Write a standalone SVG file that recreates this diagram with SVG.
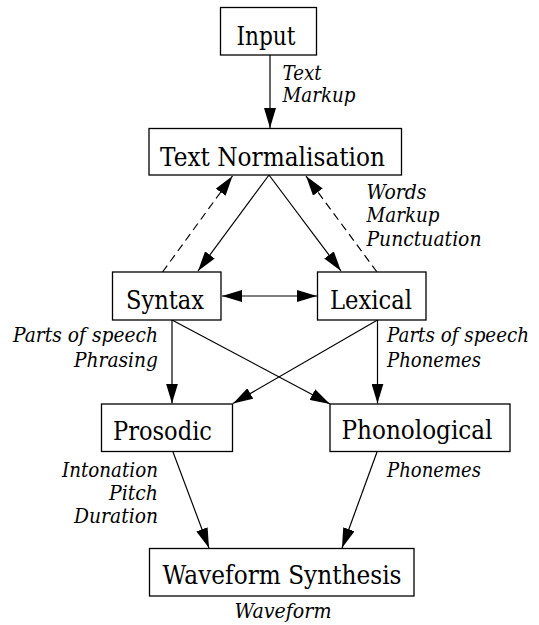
<svg xmlns="http://www.w3.org/2000/svg" width="539" height="625" viewBox="0 0 539 625">
  <style>
    .box { fill: #ffffff; stroke: #000000; stroke-width: 1.3; }
    .name { font-family: "DejaVu Serif", "Liberation Serif", serif; font-size: 26px; fill: #000000; text-anchor: middle; }
    .lbl { font-family: "DejaVu Serif", "Liberation Serif", serif; font-size: 21px; font-style: italic; fill: #000000; }
    .end { text-anchor: end; }
    .mid { text-anchor: middle; }
    .edge { fill: none; stroke: #000000; stroke-width: 1.2; }
    .dash { stroke-dasharray: 8 5; }
  </style>
  <defs>
    <marker id="head" viewBox="0 0 20 12" markerUnits="userSpaceOnUse" markerWidth="20" markerHeight="12" refX="20" refY="6" orient="auto-start-reverse">
      <path d="M0,0 L20,6 L0,12 z" fill="#000000"/>
    </marker>
  </defs>

  <rect width="539" height="625" fill="#ffffff"/>

  <!-- connectors -->
  <g id="connectors">
    <line class="edge" x1="270" y1="55" x2="270" y2="128" marker-end="url(#head)"/>
    <line class="edge" x1="269" y1="175" x2="198" y2="271" marker-end="url(#head)"/>
    <line class="edge" x1="269" y1="175" x2="341" y2="271" marker-end="url(#head)"/>
    <line class="edge dash" x1="162.5" y1="272" x2="232.5" y2="176" marker-end="url(#head)"/>
    <line class="edge dash" x1="377" y1="272" x2="306" y2="176" marker-end="url(#head)"/>
    <line class="edge" x1="222" y1="296" x2="317" y2="296" marker-start="url(#head)" marker-end="url(#head)"/>
    <line class="edge" x1="172" y1="320" x2="172" y2="403.5" marker-end="url(#head)"/>
    <line class="edge" x1="377.5" y1="320" x2="377.5" y2="403.5" marker-end="url(#head)"/>
    <line class="edge" x1="172" y1="320" x2="330" y2="404" marker-end="url(#head)"/>
    <line class="edge" x1="377.5" y1="320" x2="233" y2="403.5" marker-end="url(#head)"/>
    <line class="edge" x1="173" y1="452" x2="209" y2="548" marker-end="url(#head)"/>
    <line class="edge" x1="377" y1="452" x2="342" y2="548" marker-end="url(#head)"/>
  </g>

  <!-- edge labels -->
  <g id="labels">
    <text class="lbl" x="282.5" y="79.5" textLength="39" lengthAdjust="spacingAndGlyphs">Text</text>
    <text class="lbl" x="282.5" y="102" textLength="73" lengthAdjust="spacingAndGlyphs">Markup</text>
    <text class="lbl" x="366.5" y="198.5" textLength="60" lengthAdjust="spacingAndGlyphs">Words</text>
    <text class="lbl" x="366.5" y="222" textLength="73" lengthAdjust="spacingAndGlyphs">Markup</text>
    <text class="lbl" x="366.5" y="245.5" textLength="115" lengthAdjust="spacingAndGlyphs">Punctuation</text>
    <text class="lbl end" x="158" y="341.5" textLength="145" lengthAdjust="spacingAndGlyphs">Parts of speech</text>
    <text class="lbl end" x="158" y="366.5" textLength="84" lengthAdjust="spacingAndGlyphs">Phrasing</text>
    <text class="lbl" x="387" y="341.5" textLength="142" lengthAdjust="spacingAndGlyphs">Parts of speech</text>
    <text class="lbl" x="387" y="366.5" textLength="94" lengthAdjust="spacingAndGlyphs">Phonemes</text>
    <text class="lbl end" x="158" y="476.5" textLength="96" lengthAdjust="spacingAndGlyphs">Intonation</text>
    <text class="lbl end" x="158" y="499.5" textLength="49" lengthAdjust="spacingAndGlyphs">Pitch</text>
    <text class="lbl end" x="158" y="522.5" textLength="84" lengthAdjust="spacingAndGlyphs">Duration</text>
    <text class="lbl" x="387" y="476.5" textLength="94" lengthAdjust="spacingAndGlyphs">Phonemes</text>
    <text class="lbl mid" x="283" y="618" textLength="97" lengthAdjust="spacingAndGlyphs">Waveform</text>
  </g>

  <!-- nodes -->
  <g id="input">
    <rect class="box" x="220.5" y="7.5" width="96" height="47.5"/>
    <text class="name" x="266" y="44.5" textLength="59" lengthAdjust="spacingAndGlyphs">Input</text>
  </g>
  <g id="text-normalisation">
    <rect class="box" x="149" y="128.5" width="252.5" height="46.5"/>
    <text class="name" x="272.5" y="165.5" textLength="225" lengthAdjust="spacingAndGlyphs">Text Normalisation</text>
  </g>
  <g id="syntax">
    <rect class="box" x="112.5" y="272" width="108.5" height="48"/>
    <text class="name" x="165" y="308.5" textLength="78" lengthAdjust="spacingAndGlyphs">Syntax</text>
  </g>
  <g id="lexical">
    <rect class="box" x="317.5" y="272" width="108.5" height="48"/>
    <text class="name" x="371" y="308.5" textLength="82" lengthAdjust="spacingAndGlyphs">Lexical</text>
  </g>
  <g id="prosodic">
    <rect class="box" x="101.5" y="404" width="131" height="47.5"/>
    <text class="name" x="162.5" y="440" textLength="99" lengthAdjust="spacingAndGlyphs">Prosodic</text>
  </g>
  <g id="phonological">
    <rect class="box" x="330" y="404" width="180" height="47.5"/>
    <text class="name" x="417" y="438.5" textLength="151" lengthAdjust="spacingAndGlyphs">Phonological</text>
  </g>
  <g id="waveform-synthesis">
    <rect class="box" x="149.5" y="548.5" width="264.5" height="47.5"/>
    <text class="name" x="282" y="583.5" textLength="239" lengthAdjust="spacingAndGlyphs">Waveform Synthesis</text>
  </g>
</svg>
